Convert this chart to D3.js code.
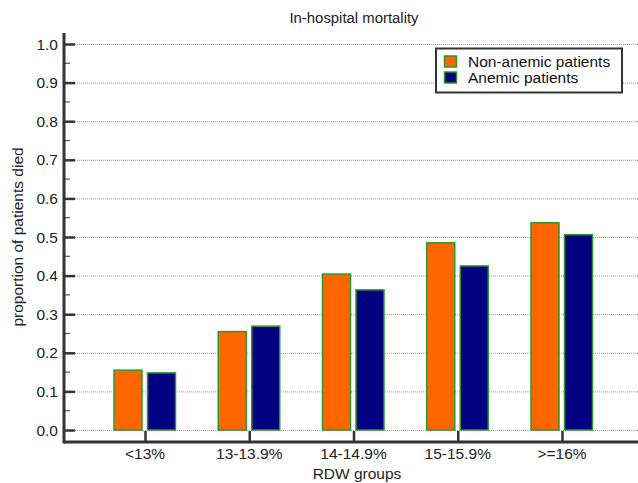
<!DOCTYPE html>
<html><head><meta charset="utf-8">
<script src="https://cdn.jsdelivr.net/npm/d3@7"></script>
<style>body{margin:0;background:#fff;} svg{display:block;font-family:"Liberation Sans",Arial,sans-serif;}</style>
</head><body><svg id="c" width="638" height="483"></svg>
<script>
const categories = ["<13%", "13-13.9%", "14-14.9%", "15-15.9%", ">=16%"];
const seriesNames = ["Non-anemic patients", "Anemic patients"];
const nonAnemic = [0.155, 0.255, 0.404, 0.485, 0.537];
const anemic = [0.148, 0.269, 0.363, 0.425, 0.506];
const yTicks = [0.0, 0.1, 0.2, 0.3, 0.4, 0.5, 0.6, 0.7, 0.8, 0.9, 1.0];
const colors = ["#FF6600", "#000080"];

const svg = d3.select("#c");
const axisX0 = 64, axisRight = 638, axisYBottom = 442, axisYTop = 33;
const y = d3.scaleLinear().domain([0, 1]).range([430, 44]);
const x = d3.scalePoint().domain(categories).range([145, 562]);
const barW = 28, gap = 5;

// gridlines
svg.append("g").selectAll("line").data(yTicks).join("line")
  .attr("x1", axisX0 + 11).attr("x2", axisRight)
  .attr("y1", d => y(d) + 0.5).attr("y2", d => y(d) + 0.5)
  .attr("stroke", "#999").attr("stroke-width", 1).attr("stroke-dasharray", "1,1");

// bars
const series = [nonAnemic, anemic];
series.forEach((vals, si) => {
  svg.append("g").selectAll("rect").data(vals).join("rect")
    .attr("x", (d, i) => si === 0 ? x(categories[i]) - gap / 2 - barW - 0.5 : x(categories[i]) + gap / 2)
    .attr("y", d => y(d))
    .attr("width", barW)
    .attr("height", d => y(0) - y(d))
    .attr("fill", colors[si])
    .attr("stroke", "#2e962e").attr("stroke-width", 1.5);
});

// y axis
const yAxis = d3.axisRight(y).tickValues(yTicks).tickSize(11).tickFormat("");
const gy = svg.append("g").attr("transform", `translate(${axisX0},0)`).call(yAxis);
gy.select(".domain").remove();
gy.selectAll(".tick line").attr("stroke", "#333").attr("stroke-width", 2.5);
const minor = d3.range(0.05, 1.0, 0.1);
gy.selectAll(".minor").data(minor).join("line").attr("class", "minor")
  .attr("x1", 0).attr("x2", 6).attr("y1", d => y(d)).attr("y2", d => y(d))
  .attr("stroke", "#555").attr("stroke-width", 1.2);
svg.append("g").selectAll("text").data(yTicks).join("text")
  .attr("x", 58).attr("y", d => y(d) + 5.5)
  .attr("text-anchor", "end").attr("font-size", 15.5).attr("fill", "#222")
  .text(d => d.toFixed(1));

// x axis
const xAxis = d3.axisTop(x).tickSize(11).tickFormat("");
const gx = svg.append("g").attr("transform", `translate(0,${axisYBottom})`).call(xAxis);
gx.select(".domain").remove();
gx.selectAll(".tick line").attr("stroke", "#333").attr("stroke-width", 2.5);
svg.append("g").selectAll("text").data(categories).join("text")
  .attr("x", d => x(d)).attr("y", 459)
  .attr("text-anchor", "middle").attr("font-size", 15.5).attr("fill", "#222")
  .text(d => d);

// axis lines
svg.append("line").attr("x1", axisX0).attr("x2", axisX0).attr("y1", axisYTop).attr("y2", axisYBottom + 1.5)
  .attr("stroke", "#333").attr("stroke-width", 3);
svg.append("line").attr("x1", axisX0).attr("x2", axisRight).attr("y1", axisYBottom).attr("y2", axisYBottom)
  .attr("stroke", "#333").attr("stroke-width", 3);

// titles
svg.append("text").attr("x", 354).attr("y", 22.5).attr("text-anchor", "middle")
  .attr("font-size", 14.9).attr("fill", "#222").text("In-hospital mortality");
svg.append("text").attr("x", 357).attr("y", 479).attr("text-anchor", "middle")
  .attr("font-size", 15.5).attr("fill", "#222").text("RDW groups");
svg.append("text").attr("transform", "translate(23,237) rotate(-90)").attr("text-anchor", "middle")
  .attr("font-size", 15.5).attr("fill", "#222").text("proportion of patients died");

// legend
const lg = svg.append("g");
lg.append("rect").attr("x", 436).attr("y", 48.5).attr("width", 186).attr("height", 44)
  .attr("fill", "#fff").attr("stroke", "#333").attr("stroke-width", 2);
seriesNames.forEach((n, i) => {
  lg.append("rect").attr("x", 444.5).attr("y", 56 + i * 16).attr("width", 12).attr("height", 11)
    .attr("fill", colors[i]).attr("stroke", "#2e962e").attr("stroke-width", 1.5);
  lg.append("text").attr("x", 468).attr("y", 66.5 + i * 16).attr("font-size", 15.5).attr("fill", "#111").text(n);
});
</script></body></html>
